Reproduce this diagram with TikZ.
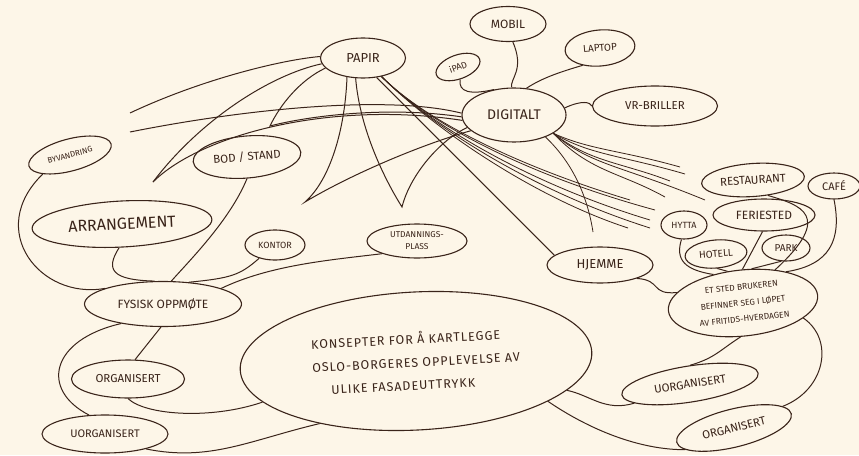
\documentclass[tikz,border=0pt]{standalone}
\usepackage{fontspec}
\setmainfont{Fira Sans}
\usetikzlibrary{shapes.geometric}
\definecolor{paper}{RGB}{253,246,232}
\definecolor{ink}{RGB}{58,36,26}
\newcommand{\inksize}[2]{\fontsize{#1}{#2}\selectfont}

\begin{document}
\begin{tikzpicture}[x=1pt, y=-1pt,
    bub/.style={ellipse, draw=ink, line width=1.1pt, inner sep=0pt, text=ink, align=center},
    link/.style={draw=ink, line width=1pt},
    fan/.style={draw=ink, line width=0.8pt}
  ]
  \fill[paper] (0,0) rectangle (859,455);
  \useasboundingbox (0,0) rectangle (859,455);

  \node[bub, minimum width=85pt, minimum height=40pt, font=\inksize{13}{13}] (papir) at (363,58) {PAPIR};
  \node[bub, minimum width=104pt, minimum height=54pt, font=\inksize{14}{14}] (digitalt) at (514,115) {DIGITALT};
  \node[bub, minimum width=76pt, minimum height=35pt, font=\inksize{12}{12}] (mobil) at (508,24) {MOBIL};
  \node[bub, minimum width=70pt, minimum height=36pt, rotate=5, font=\inksize{10}{10}] (laptop) at (600,48) {LAPTOP};
  \node[bub, minimum width=46pt, minimum height=24pt, rotate=20, font=\inksize{9}{9}] (ipad) at (458,67) {iPAD};
  \node[bub, minimum width=125pt, minimum height=40pt, font=\inksize{11.5}{11.5}] (vr) at (655,106) {VR-BRILLER};

  \node[bub, minimum width=85pt, minimum height=32pt, rotate=15, font=\inksize{8}{8}] (byvandring) at (70,155) {BYVANDRING};
  \node[bub, minimum width=108pt, minimum height=42pt, rotate=5, font=\inksize{11.5}{11.5}] (bod) at (247,157) {BOD / STAND};
  \node[bub, minimum width=180pt, minimum height=46pt, rotate=3, font=\inksize{16}{16}] (arrangement) at (122,224) {ARRANGEMENT};
  \node[bub, minimum width=60pt, minimum height=30pt, font=\inksize{9}{9}] (kontor) at (275,245) {KONTOR};
  \node[bub, minimum width=100pt, minimum height=34pt, font=\inksize{8.5}{12}] (utdanning) at (417,241) {UTDANNINGS-\\PLASS};
  \node[bub, minimum width=157pt, minimum height=45pt, font=\inksize{12}{12}] (fysisk) at (163,304) {FYSISK OPPMØTE};
  \node[bub, minimum width=113pt, minimum height=38pt, font=\inksize{11.5}{11.5}] (organisert) at (128,379) {ORGANISERT};
  \node[bub, minimum width=126pt, minimum height=38pt, font=\inksize{11}{11}] (uorganisert) at (105,434) {UORGANISERT};

  \node[bub, minimum width=352pt, minimum height=138pt, rotate=3, align=left,
        font={\inksize{12.5}{23}\addfontfeature{LetterSpace=8}}] (konsept) at (416,361)
    {KONSEPTER FOR Å KARTLEGGE\\OSLO-BORGERES OPPLEVELSE AV\\\hspace*{18pt}ULIKE FASADEUTTRYKK};

  \node[bub, minimum width=106pt, minimum height=36pt, font=\inksize{13}{13}] (hjemme) at (600,265) {HJEMME};
  \node[bub, minimum width=150pt, minimum height=66pt, rotate=6, font=\inksize{8.5}{16}] (etsted) at (743,303)
    {ET STED BRUKEREN\\BEFINNER SEG I LØPET\\AV FRITIDS-HVERDAGEN};
  \node[bub, minimum width=46pt, minimum height=28pt, font=\inksize{9}{9}] (hytta) at (684,225) {HYTTA};
  \node[bub, minimum width=102pt, minimum height=32pt, font=\inksize{12}{12}] (feriested) at (764,215) {FERIESTED};
  \node[bub, minimum width=103pt, minimum height=33pt, rotate=4, font=\inksize{11.5}{11.5}] (restaurant) at (753,180) {RESTAURANT};
  \node[bub, minimum width=52pt, minimum height=26pt, font=\inksize{11}{11}] (cafe) at (834,186) {CAFÉ};
  \node[bub, minimum width=62pt, minimum height=28pt, rotate=5, font=\inksize{10}{10}] (hotell) at (716,254) {HOTELL};
  \node[bub, minimum width=48pt, minimum height=26pt, font=\inksize{10}{10}] (park) at (786,248) {PARK};
  \node[bub, minimum width=138pt, minimum height=36pt, rotate=9, font=\inksize{11.5}{11.5}] (uorgfritid) at (690,384) {UORGANISERT};
  \node[bub, minimum width=118pt, minimum height=38pt, rotate=14, font=\inksize{11.5}{11.5}] (orgfritid) at (734,428) {ORGANISERT};

  \coordinate (enda) at (130,113);
  \coordinate (endb) at (153,182);
  \coordinate (endc) at (130,132);
  \coordinate (cuspa) at (270,126);
  \coordinate (cuspb) at (305,202);
  \coordinate (cuspc) at (402,207);
  \coordinate (pf1) at (630,200);
  \coordinate (pf2) at (655,210);
  \coordinate (pf3) at (650,220);
  \coordinate (pf4) at (650,228);
  \coordinate (pf5) at (628,228);
  \coordinate (df1) at (680,167);
  \coordinate (df2) at (685,174);
  \coordinate (df3) at (670,181);
  \coordinate (df4) at (665,197);
  \coordinate (df5) at (705,200);
  \coordinate (df6) at (593,232);

  \draw[link] (enda) .. controls (200,80) and (280,60) .. (papir.178);
  \draw[link] (endb) .. controls (200,120) and (270,75) .. (papir.188);
  \draw[link] (endb) .. controls (200,135) and (330,100) .. (digitalt.186);
  \draw[link] (endc) .. controls (250,108) and (390,95) .. (digitalt.178);
  \draw[link] (papir.195) .. controls (300,80) and (280,105) .. (cuspa) .. controls (300,118) and (380,105) .. (digitalt.182);
  \draw[link] (papir.-130) .. controls (345,130) and (330,180) .. (cuspb) .. controls (350,175) and (420,145) .. (digitalt.200);
  \draw[link] (papir.-110) .. controls (360,130) and (385,180) .. (cuspc) .. controls (410,175) and (440,140) .. (digitalt.195);
  \draw[link] (papir.-55) -- (hjemme.168);
  \foreach \e/\c in {pf1/170, pf2/176, pf3/184, pf4/190, pf5/196}
    \draw[fan] (papir.-45) .. controls (430,125) and (530,\c) .. (\e);
  \foreach \e/\c in {df1/150, df2/155, df3/162, df4/172, df5/165}
    \draw[fan] (digitalt.-25) .. controls (590,\c) and (620,\c) .. (\e);
  \draw[fan] (digitalt.-35) .. controls (575,165) and (588,200) .. (df6);

  \draw[link] (ipad.-100) .. controls (458,92) and (470,95) .. (digitalt.128);
  \draw[link] (mobil.-75) .. controls (525,70) and (510,78) .. (digitalt.95);
  \draw[link] (laptop.-140) .. controls (560,72) and (542,78) .. (digitalt.65);
  \draw[link] (digitalt.8) .. controls (582,100) and (590,102) .. (vr.180);

  \draw[link] (byvandring.200) .. controls (-15,230) and (40,300) .. (fysisk.165);
  \draw[link] (arrangement.-100) .. controls (105,270) and (112,280) .. (fysisk.110);
  \draw[link] (bod.-95) .. controls (230,220) and (190,260) .. (fysisk.70);
  \draw[link] (kontor.-140) .. controls (240,275) and (232,278) .. (fysisk.40);
  \draw[link] (utdanning.-160) .. controls (330,260) and (270,265) .. (fysisk.15);
  \draw[link] (fysisk.-95) -- (organisert.70);
  \draw[link] (fysisk.-155) .. controls (50,340) and (40,390) .. (uorganisert.130);
  \draw[link] (organisert.-90) .. controls (145,415) and (210,420) .. (konsept.-168);
  \draw[link] (konsept.-150) .. controls (250,440) and (210,462) .. (uorganisert.-20);

  \draw[link] (hjemme.-20) .. controls (662,280) and (650,295) .. (etsted.165);
  \draw[link] (hytta.-100) .. controls (675,260) and (685,270) .. (etsted.130);
  \draw[link] (hotell.-90) -- (etsted.110);
  \draw[link] (feriested.-95) -- (etsted.85);
  \draw[link] (park.-110) -- (etsted.70);
  \draw[link] (restaurant.-50) .. controls (800,205) and (835,215) .. (etsted.40);
  \draw[link] (cafe.-90) .. controls (842,240) and (830,265) .. (etsted.30);
  \draw[link] (etsted.-100) .. controls (720,350) and (715,358) .. (uorgfritid.80);
  \draw[link] (etsted.-20) .. controls (835,340) and (825,390) .. (orgfritid.10);
  \draw[link] (konsept.-14) .. controls (590,395) and (605,412) .. (uorgfritid.-170);
  \draw[link] (konsept.-20) .. controls (590,430) and (640,450) .. (orgfritid.190);
\end{tikzpicture}
\end{document}
